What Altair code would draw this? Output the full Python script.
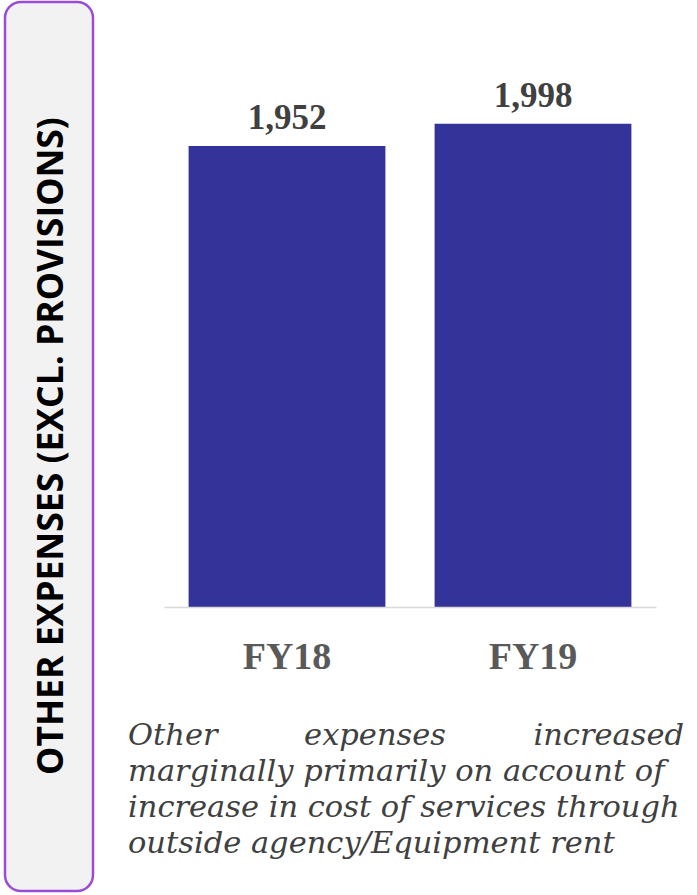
import altair as alt
import pandas as pd

# ---- data ----
years = ["FY18", "FY19"]
values = [1952, 1998]
side_title = "OTHER EXPENSES (EXCL. PROVISIONS)"
caption_first = ["Other", "expenses", "increased"]
caption_rest = [
    "marginally primarily on account of",
    "increase in cost of services through",
    "outside agency/Equipment rent",
]

df = pd.DataFrame({"year": years, "value": values})

# layout (pixels)
PAD_L, PAD_T = 164, 26
W, H = 492, 581
TOTAL_W, TOTAL_H = 697, 895
Y_MIN = 1000

x_enc = alt.X(
    "year:N",
    sort=years,
    scale=alt.Scale(paddingInner=0.2, paddingOuter=0.1),
    axis=alt.Axis(
        title=None,
        labelAngle=0,
        labelFont="Liberation Serif",
        labelFontWeight="bold",
        labelFontSize=38,
        labelColor="#595959",
        labelBaseline="alphabetic",
        labelPadding=61,
        ticks=False,
        tickSize=0,
        domainColor="#d9d9d9",
        domainWidth=1.5,
        grid=False,
        zindex=1,
    ),
)
y_enc = alt.Y("value:Q", scale=alt.Scale(domain=[Y_MIN, 2200], nice=False, zero=False), axis=None)

bars = alt.Chart(df).mark_bar(color="#333399").encode(x=x_enc, y=y_enc, y2=alt.datum(Y_MIN))

labels = alt.Chart(df).mark_text(
    font="Liberation Serif",
    fontWeight="bold",
    fontSize=35,
    color="#404040",
    baseline="alphabetic",
    dy=-17,
).encode(x=x_enc, y=y_enc, text=alt.Text("value:Q", format=","))

one = pd.DataFrame({"k": [0]})

box = alt.Chart(one).mark_rect(
    fill="#f2f2f2",
    stroke="#9a4cd6",
    strokeWidth=2.5,
    cornerRadius=16,
).encode(
    x=alt.value(5 - PAD_L),
    x2=alt.value(93 - PAD_L),
    y=alt.value(2 - PAD_T),
    y2=alt.value(891 - PAD_T),
)

side = alt.Chart(one).mark_text(
    text=side_title,
    font="Open Sans",
    fontWeight="bold",
    fontSize=35.5,
    color="#000000",
    angle=270,
    align="center",
    baseline="alphabetic",
).encode(x=alt.value(63 - PAD_L), y=alt.value(446 - PAD_T))

cap_style = dict(font="DejaVu Serif", fontStyle="italic", fontSize=30.5, color="#404040", baseline="alphabetic")
left_x = 128 - PAD_L
right_x = 684 - PAD_L
line1_y = 745 - PAD_T

cap_layers = [
    alt.Chart(one).mark_text(text=caption_first[0], align="left", **cap_style).encode(
        x=alt.value(left_x), y=alt.value(line1_y)),
    alt.Chart(one).mark_text(text=caption_first[1], align="center", **cap_style).encode(
        x=alt.value(375 - PAD_L), y=alt.value(line1_y)),
    alt.Chart(one).mark_text(text=caption_first[2], align="right", **cap_style).encode(
        x=alt.value(right_x), y=alt.value(line1_y)),
]
for i, line in enumerate(caption_rest):
    cap_layers.append(
        alt.Chart(one).mark_text(text=line, align="left", **cap_style).encode(
            x=alt.value(left_x), y=alt.value(line1_y + 36 * (i + 1)))
    )

chart = alt.layer(box, side, bars, labels, *cap_layers).properties(
    width=W,
    height=H,
    padding={"left": PAD_L, "top": PAD_T, "right": TOTAL_W - PAD_L - W, "bottom": TOTAL_H - PAD_T - H},
    autosize=alt.AutoSizeParams(type="none"),
    background="white",
).configure_view(stroke=None)

chart.save("out.html", embed_options={"renderer": "svg", "actions": False})
